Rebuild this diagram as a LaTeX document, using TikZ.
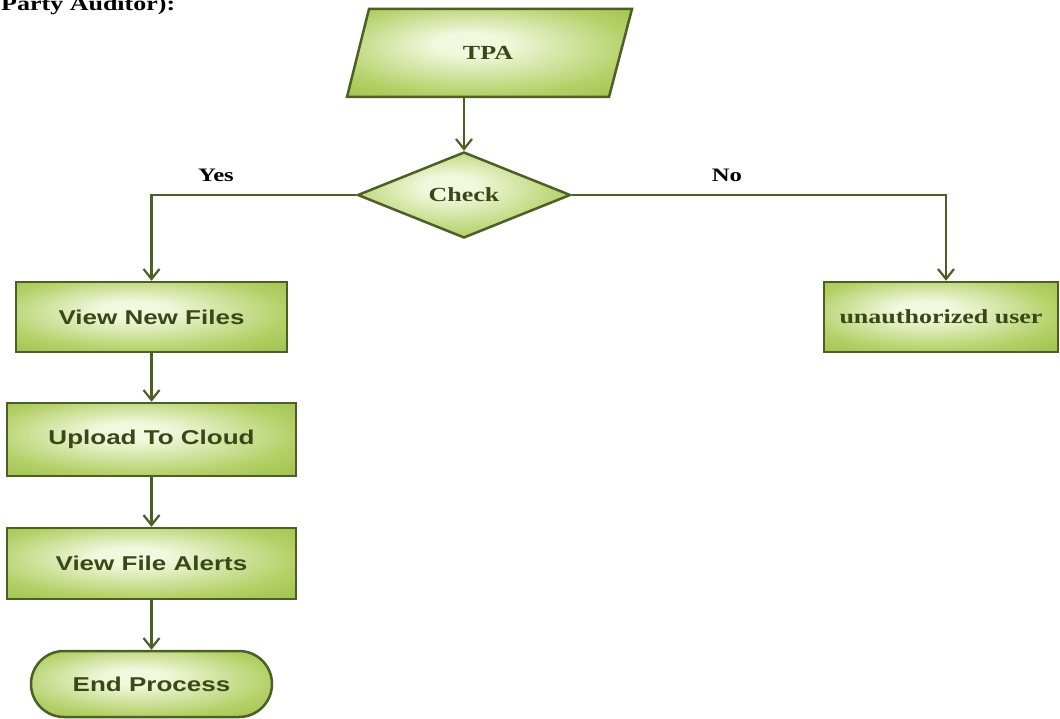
\documentclass[tikz,border=0pt]{standalone}
\usepackage{fontspec}
\usepackage{graphicx}
\setmainfont{Liberation Serif}
\newfontfamily\arialf{Liberation Sans}
\usetikzlibrary{arrows.meta,shapes.geometric}
\definecolor{gin}{HTML}{F2F8DE}
\definecolor{gmid}{HTML}{B3D066}
\definecolor{gout}{HTML}{86AE30}
\definecolor{gline}{HTML}{4C5F24}
\definecolor{gtext}{HTML}{3A4818}
\pgfdeclareradialshading{greenbox}{\pgfpoint{-4bp}{6bp}}{color(0bp)=(gin); color(6bp)=(gin); color(27bp)=(gmid); color(50bp)=(gout)}
\newcommand{\stx}[1]{\scalebox{1.3}[1]{#1}}
\begin{document}
\begin{tikzpicture}[x=1pt,y=-1pt,
  greenshape/.style={draw=gline, line width=2.5pt, shading=greenbox, text=gtext, inner sep=0pt},
  sanslabel/.style={font=\arialf\bfseries\fontsize{20}{24}\selectfont},
  seriflabel/.style={font=\bfseries\fontsize{20}{24}\selectfont},
  procbox/.style={greenshape, sanslabel, rectangle},
  conn/.style={draw=gline, line width=2.2pt, -{Straight Barb[length=10pt,width=16pt,line width=2.2pt]}},
  edgelabel/.style={font=\bfseries\fontsize{19}{23}\selectfont, inner sep=0pt}
]
\useasboundingbox (0,0) rectangle (1060,719);
\fill[white] (0,0) rectangle (1060,719);

% clipped heading
\node[anchor=base west, inner sep=0pt, seriflabel] (heading) at (1,11) {\stx{Party Auditor):}};

% TPA parallelogram
\path[greenshape] (369,9) -- (632,9) -- (609,97) -- (347,97) -- cycle;
\node[seriflabel, text=gtext, inner sep=0pt] (tpa) at (488,53) {\stx{TPA}};
\coordinate (tpab) at (464,97);

% decision
\node[greenshape, diamond, seriflabel, minimum width=213pt, minimum height=86pt] (check) at (464,195) {\stx{Check}};

% process boxes
\node[procbox, minimum width=271pt, minimum height=70pt] (vnf) at (151.5,317) {\stx{View New Files}};
\node[procbox, minimum width=289pt, minimum height=73pt] (upload) at (151.5,439.5) {\stx{Upload To Cloud}};
\node[procbox, minimum width=289pt, minimum height=71pt] (vfa) at (151.5,563.5) {\stx{View File Alerts}};
\node[procbox, rounded corners=33pt, minimum width=241pt, minimum height=66pt] (endp) at (151.5,684) {\stx{End Process}};
\node[greenshape, rectangle, seriflabel, minimum width=234pt, minimum height=70pt] (unauth) at (941,317) {\stx{unauthorized user}};

% connectors
\draw[conn] (tpab) -- (check.north);
\draw[conn] (check.west) -| (vnf.north);
\draw[conn] (check.east) -| ([xshift=5pt]unauth.north);
\draw[conn] (vnf.south) -- (upload.north);
\draw[conn] (upload.south) -- (vfa.north);
\draw[conn] (vfa.south) -- (endp.north);

% branch labels
\node[edgelabel] (yes) at (216,175) {\stx{Yes}};
\node[edgelabel] (no) at (727,175) {\stx{No}};
\end{tikzpicture}
\end{document}
